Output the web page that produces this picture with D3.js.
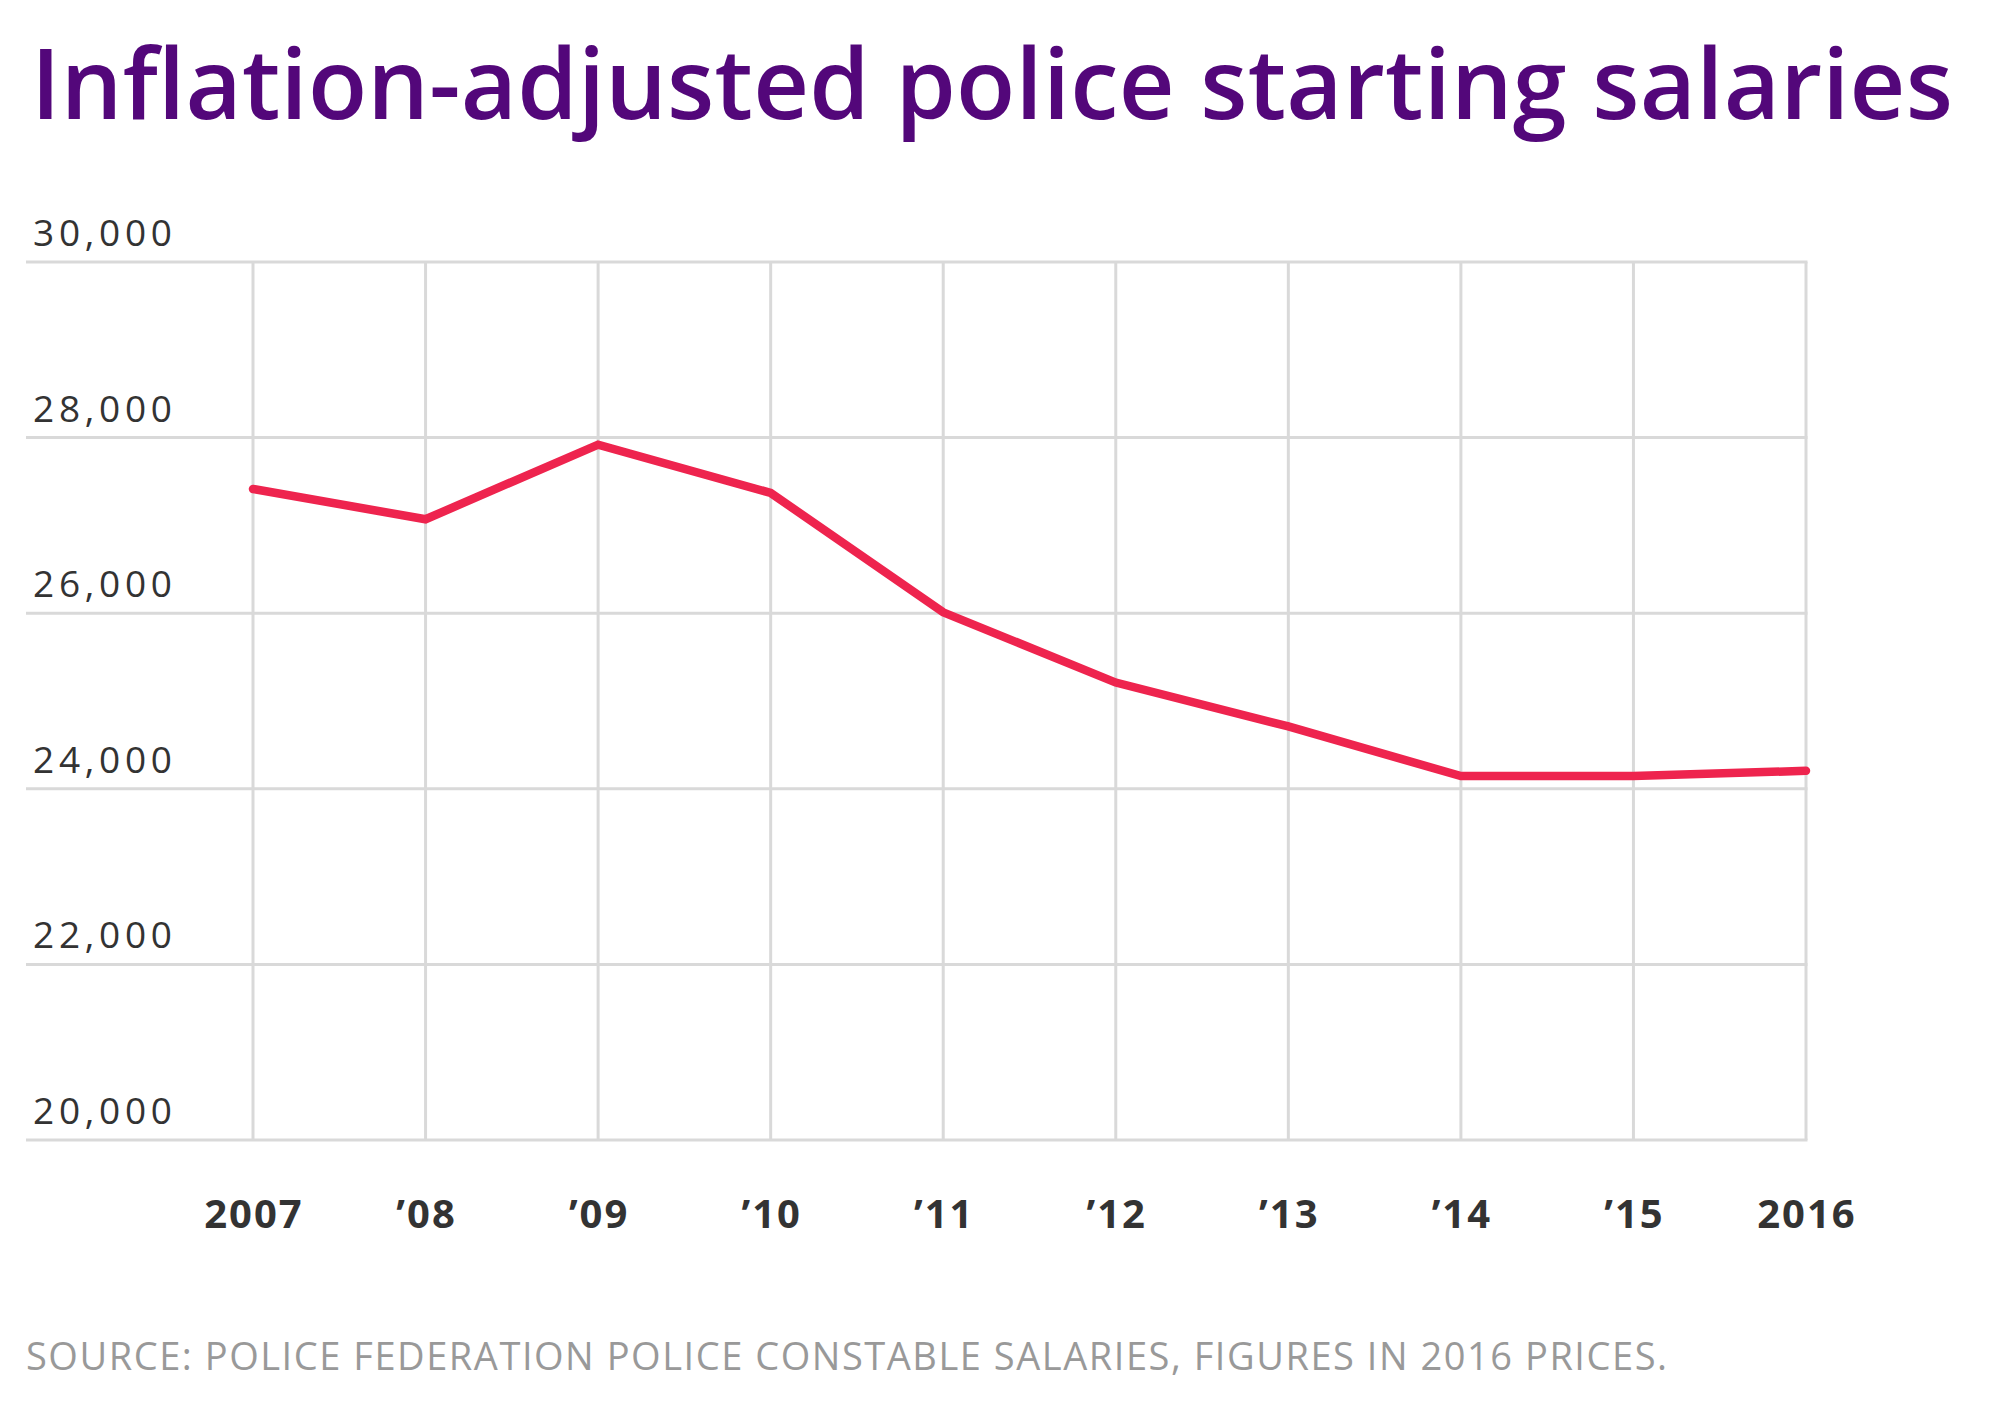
<!DOCTYPE html>
<html>

<head>
  <meta charset='utf-8'>
  <title>Inflation-adjusted police starting salaries</title>
  <script src="https://cdnjs.cloudflare.com/ajax/libs/d3/7.8.5/d3.min.js"></script>
  <style>
    body { margin: 0; background: #fff; }
    text { font-family: 'Open Sans', sans-serif; }
    .title { fill: #53077a; font-weight: 600; font-size: 97px; }
    .y-label { fill: #333; font-size: 37px; }
    .x-label { fill: #333; font-weight: 700; font-size: 40px; letter-spacing: 2px; }
    .source { fill: #999; font-size: 38px; }
    .grid line { stroke: #d9d9d9; stroke-width: 3; }
  </style>
</head>

<body>
  <svg width="2008" height="1418" id="chart"></svg>
  <script>
    // data (2016 prices)
    const years = [2007, 2008, 2009, 2010, 2011, 2012, 2013, 2014, 2015, 2016];
    const salaries = [27415, 27070, 27920, 27370, 26010, 25210, 24710, 24145, 24145, 24205];
    const xTickLabels = ['2007', '\u201908', '\u201909', '\u201910', '\u201911', '\u201912', '\u201913', '\u201914', '\u201915', '2016'];
    const yTicks = [20000, 22000, 24000, 26000, 28000, 30000];

    const titleText = 'Inflation-adjusted police starting salaries';
    const sourceText = 'SOURCE: POLICE FEDERATION POLICE CONSTABLE SALARIES, FIGURES IN 2016 PRICES.';

    const gridLeft = 26;
    const plotLeft = 253;
    const plotRight = 1806;
    const plotTop = 262;
    const plotBottom = 1140;

    const svg = d3.select('#chart');

    const x = d3.scaleLinear()
      .domain([years[0], years[years.length - 1]])
      .range([plotLeft, plotRight]);

    const y = d3.scaleLinear()
      .domain([yTicks[0], yTicks[yTicks.length - 1]])
      .range([plotBottom, plotTop]);

    // stretch / squeeze a text to a given width with letter-spacing
    function fitWidth(sel, width) {
      sel.each(function () {
        const n = this.textContent.length;
        const w = this.getComputedTextLength();
        d3.select(this).style('letter-spacing', ((width - w) / (n - 1)) + 'px');
      });
    }

    // title
    svg.append('text')
      .classed('title', true)
      .attr('x', 31)
      .attr('y', 119)
      .text(titleText)
      .call(fitWidth, 1922);

    // grid
    const grid = svg.append('g').classed('grid', true);

    grid.selectAll('line.v')
      .data(years)
      .join('line')
      .classed('v', true)
      .attr('x1', d => x(d))
      .attr('x2', d => x(d))
      .attr('y1', plotTop)
      .attr('y2', plotBottom);

    grid.selectAll('line.h')
      .data(yTicks)
      .join('line')
      .classed('h', true)
      .attr('x1', gridLeft)
      .attr('x2', plotRight + 1.5)
      .attr('y1', d => y(d))
      .attr('y2', d => y(d));

    // y labels sit above their grid line
    svg.append('g')
      .selectAll('text')
      .data(yTicks)
      .join('text')
      .classed('y-label', true)
      .attr('x', 33)
      .attr('y', d => y(d) - 16)
      .text(d => d3.format(',')(d))
      .call(fitWidth, 139);

    // x labels
    svg.append('g')
      .selectAll('text')
      .data(years)
      .join('text')
      .classed('x-label', true)
      .attr('x', d => x(d) + 1)
      .attr('y', 1228)
      .attr('text-anchor', 'middle')
      .text((d, i) => xTickLabels[i]);

    // salary line
    const line = d3.line()
      .x((d, i) => x(years[i]))
      .y(d => y(d));

    svg.append('path')
      .datum(salaries)
      .attr('d', line)
      .attr('fill', 'none')
      .attr('stroke', '#ee244e')
      .attr('stroke-width', 8.5)
      .attr('stroke-linecap', 'round')
      .attr('stroke-linejoin', 'miter');

    // source note
    svg.append('text')
      .classed('source', true)
      .attr('x', 26)
      .attr('y', 1370)
      .text(sourceText)
      .call(fitWidth, 1641);
  </script>
</body>

</html>
